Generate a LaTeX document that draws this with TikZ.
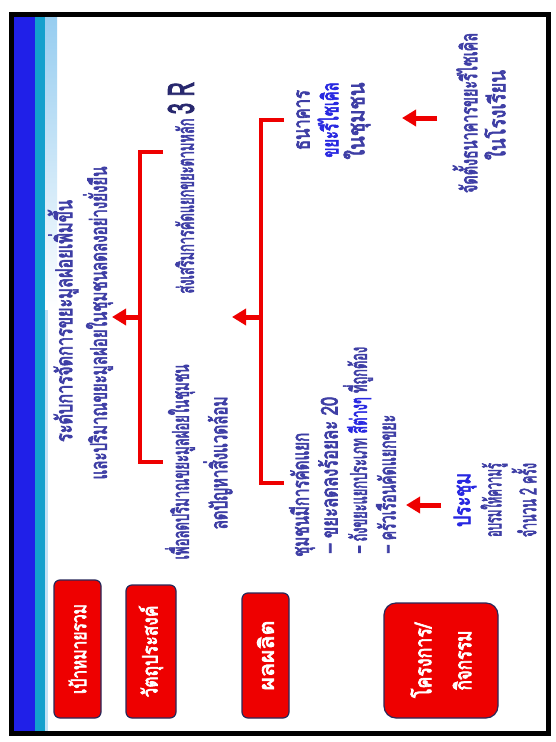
\documentclass[tikz,border=0pt]{standalone}
\usepackage{fontspec}
\newfontfamily\thai[Script=Thai, FakeBold=3.5]{Loma}
\usetikzlibrary{arrows.meta}
\definecolor{boxred}{RGB}{238,0,0}
\definecolor{txtblue}{RGB}{62,62,165}
\definecolor{brightblue}{RGB}{40,40,225}
\definecolor{navy}{RGB}{40,40,110}
\definecolor{bandblue}{RGB}{32,32,232}
\definecolor{bandteal}{RGB}{20,160,205}
\definecolor{bandlight}{RGB}{150,205,240}
\definecolor{boxedge}{RGB}{40,40,90}
\newsavebox\fitbox
\newcommand\fitw[2]{\sbox\fitbox{#2}\pgfmathsetmacro\fitsc{#1/\the\wd\fitbox}\scalebox{\fitsc}[1]{\usebox\fitbox}}
\tikzset{
  lbl/.style={rotate=90, inner sep=0pt, text=txtblue, font=\thai\fontsize{23}{26}\selectfont},
  redbox/.style={rotate=90, fill=boxred, draw=boxedge, line width=1.2pt, rounded corners=6pt,
    text=white, inner sep=0pt, align=center, font=\thai\fontsize{21}{40}\selectfont},
  bracket/.style={draw=boxred, line width=4.5pt},
  redarrow/.style={draw=boxred, line width=5pt, -{Triangle[length=14pt,width=16pt]}},
}
\begin{document}
\begin{tikzpicture}[x=1pt,y=-1pt]
\useasboundingbox (0,0) rectangle (556,742);
\fill[white] (0,0) rectangle (556,742);
% band
\fill[bandblue] (14,16) rectangle (35,731);
\fill[bandteal] (35,16) rectangle (45,731);
\shade[top color=bandlight, bottom color=white] (45,16) rectangle (57,310);
\fill[bandlight!60] (45,310) rectangle (48,731);
% frame
\draw[line width=5pt] (11.5,14) rectangle (548.5,733.5);

% left column boxes
\node[redbox, minimum width=138pt, minimum height=47pt] (goal) at (77.5,649) {\fitw{90}{เป้าหมายรวม}};
\node[redbox, minimum width=133pt, minimum height=50pt] (obj) at (151,651.5) {\fitw{92}{วัตถุประสงค์}};
\node[redbox, minimum width=125pt, minimum height=47pt] (outp) at (265.5,655.5) {\fitw{70}{ผลผลิต}};
\node[redbox, minimum width=115pt, minimum height=114pt, rounded corners=12pt, font=\thai\fontsize{23}{40}\selectfont] (act) at (441,660.5) {\fitw{75}{โครงการ/}\\\fitw{60}{กิจกรรม}};

% goal text
\node[lbl] (t1) at (63,321) {\fitw{242}{ระดับการจัดการขยะมูลฝอยเพิ่มขึ้น}};
\node[lbl] (t2) at (98,323) {\fitw{313}{และปริมาณขยะมูลฝอยในชุมชนลดลงอย่างยั่งยืน}};

% objectives
\node[lbl] (o1) at (181,188) {\fitw{211}{ส่งเสริมการคัดแยกขยะตามหลัก {\color{navy}\fontsize{36}{36}\selectfont 3 R}}};
\node[lbl] (o2a) at (180,462) {\fitw{195}{เพื่อลดปริมาณขยะมูลฝอยในชุมชน}};
\node[lbl] (o2b) at (218,463) {\fitw{133}{ลดปัญหาสิ่งแวดล้อม}};

% outputs
\node[lbl] (p1a) at (303,120) {\fitw{60}{ธนาคาร}};
\node[lbl, text=brightblue] (p1b) at (328,120) {\fitw{75}{ขยะรีไซเคิล}};
\node[lbl] (p1c) at (357,121) {\fitw{77}{ในชุมชน}};
\node[lbl, anchor=west] (p2a) at (302,557) {\fitw{124}{ชุมชนมีการคัดแยก}};
\node[lbl, anchor=west] (p2b) at (328,553) {\fitw{156}{– ขยะลดลงร้อยละ 20}};
\node[lbl, anchor=west] (p2c) at (358,553) {\fitw{206}{– ถังขยะแยกประเภท {\color{brightblue}สีต่างๆ} ที่ถูกต้อง}};
\node[lbl, anchor=west] (p2d) at (386,553) {\fitw{138}{– ครัวเรือนคัดแยกขยะ}};

% activities
\node[lbl, text=brightblue] (a1a) at (465,500) {\fitw{54}{ประชุม}};
\node[lbl] (a1b) at (494,500) {\fitw{74}{อบรมให้ความรู้}};
\node[lbl] (a1c) at (524,500) {\fitw{74}{จำนวน 2 ครั้ง}};
\node[lbl] (a2a) at (465,113) {\fitw{160}{จัดตั้งธนาคารขยะรีไซเคิล}};
\node[lbl] (a2b) at (495,115) {\fitw{90}{ในโรงเรียน}};

% bracket 1 (objectives -> goal)
\coordinate (b1t) at (163,152);
\coordinate (b1tc) at (140,152);
\coordinate (b1bc) at (140,462);
\coordinate (b1b) at (163,462);
\coordinate (b1m) at (141,317);
\coordinate (b1tip) at (112,317);
\draw[bracket] (b1t) -- (b1tc) -- (b1bc) -- (b1b);
\draw[redarrow] (b1m) -- (b1tip);

% bracket 2 (outputs -> objectives)
\coordinate (b2t) at (284,120);
\coordinate (b2tc) at (261,120);
\coordinate (b2bc) at (261,483);
\coordinate (b2b) at (284,483);
\coordinate (b2m) at (262,317);
\coordinate (b2tip) at (232,317);
\draw[bracket] (b2t) -- (b2tc) -- (b2bc) -- (b2b);
\draw[redarrow] (b2m) -- (b2tip);

% activity arrows
\coordinate (ar3s) at (437,118);
\coordinate (ar3e) at (402,118);
\draw[redarrow] (ar3s) -- (ar3e);
\coordinate (ar4s) at (441,505);
\coordinate (ar4e) at (406,505);
\draw[redarrow] (ar4s) -- (ar4e);
\end{tikzpicture}
\end{document}
